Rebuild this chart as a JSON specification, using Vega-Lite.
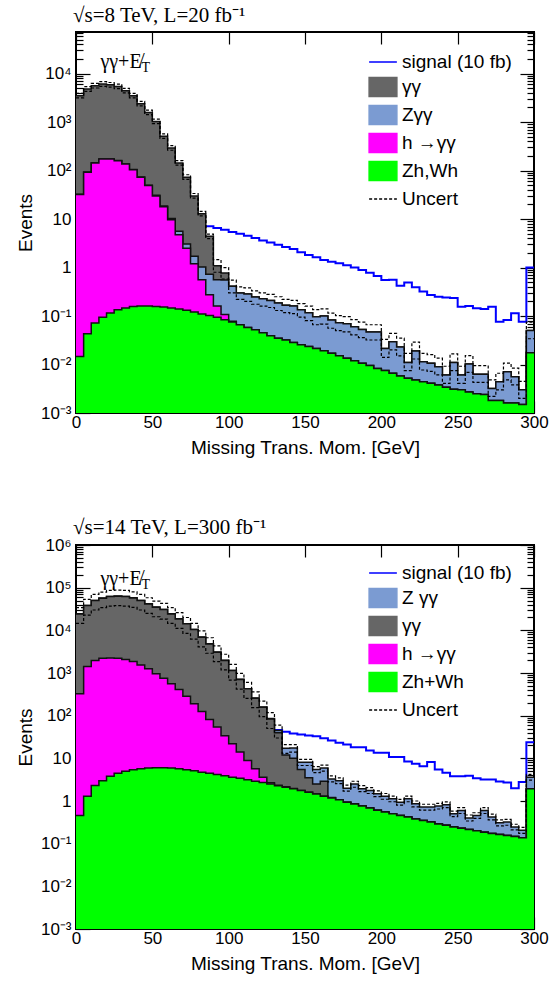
{
  "$schema": "https://vega.github.io/schema/vega-lite/v6.json",
  "background": "white",
  "padding": {"left": 15, "top": 3, "right": 5, "bottom": 0},
  "config": {
    "font": "Liberation Sans",
    "view": {"stroke": "#000", "strokeWidth": 2},
    "axis": {"domain": false, "grid": false, "labelFont": "Liberation Sans", "labelFontSize": 17, "labelColor": "#000", "titleFont": "Liberation Sans", "titleFontSize": 19, "titleFontWeight": "normal", "titleColor": "#000", "tickColor": "#000", "tickWidth": 1.2, "labelOverlap": false, "labelBound": false, "labelFlush": false},
    "title": {"font": "Liberation Serif", "fontSize": 21, "fontWeight": "normal", "color": "#000", "anchor": "start", "frame": "group"}
  },
  "datasets": {
    "d8": [
      {"x":0,"g":0.0147,"m":32,"c":32.5,"t":3490,"s":null,"u":3900,"d":3140},
      {"x":5,"g":0.043,"m":92,"c":93,"t":4790,"s":null,"u":5360,"d":4310},
      {"x":10,"g":0.072,"m":143,"c":144,"t":5600,"s":null,"u":6270,"d":5040},
      {"x":15,"g":0.094,"m":173,"c":174,"t":6070,"s":null,"u":6800,"d":5460},
      {"x":20,"g":0.115,"m":173,"c":174,"t":5850,"s":null,"u":6550,"d":5270},
      {"x":25,"g":0.135,"m":160,"c":161,"t":5430,"s":null,"u":6080,"d":4890},
      {"x":30,"g":0.146,"m":136,"c":137,"t":4430,"s":null,"u":4960,"d":3990},
      {"x":35,"g":0.158,"m":104,"c":105,"t":3490,"s":null,"u":3910,"d":3140},
      {"x":40,"g":0.16,"m":73,"c":74,"t":2390,"s":null,"u":2680,"d":2150},
      {"x":45,"g":0.16,"m":49,"c":50,"t":1580,"s":null,"u":1770,"d":1420},
      {"x":50,"g":0.158,"m":30,"c":31,"t":1030,"s":null,"u":1150,"d":927},
      {"x":55,"g":0.153,"m":18,"c":18.6,"t":510,"s":null,"u":571,"d":459},
      {"x":60,"g":0.146,"m":9.7,"c":10.2,"t":291,"s":null,"u":326,"d":262},
      {"x":65,"g":0.139,"m":4.75,"c":5.6,"t":143,"s":null,"u":160,"d":129},
      {"x":70,"g":0.131,"m":2.5,"c":3.05,"t":73,"s":null,"u":82,"d":66},
      {"x":75,"g":0.121,"m":1.2,"c":1.7,"t":30,"s":null,"u":33.6,"d":27},
      {"x":80,"g":0.11,"m":0.56,"c":1.02,"t":12.9,"s":null,"u":14.4,"d":11.6},
      {"x":85,"g":0.102,"m":0.275,"c":0.73,"t":4.4,"s":7.06,"u":4.9,"d":3.96},
      {"x":90,"g":0.094,"m":0.16,"c":0.56,"t":1.09,"s":6.5,"u":1.45,"d":0.8},
      {"x":95,"g":0.084,"m":0.107,"c":0.55,"t":0.77,"s":6.0,"u":1.0,"d":0.58},
      {"x":100,"g":0.075,"m":0.078,"c":0.41,"t":0.41,"s":5.4,"u":0.55,"d":0.3},
      {"x":105,"g":0.066,"m":0.066,"c":0.3,"t":0.3,"s":5.0,"u":0.4,"d":0.22},
      {"x":110,"g":0.058,"m":0.058,"c":0.285,"t":0.285,"s":4.5,"u":0.38,"d":0.2},
      {"x":115,"g":0.052,"m":0.052,"c":0.247,"t":0.247,"s":4.06,"u":0.33,"d":0.175},
      {"x":120,"g":0.045,"m":0.045,"c":0.228,"t":0.228,"s":3.63,"u":0.3,"d":0.16},
      {"x":125,"g":0.039,"m":0.039,"c":0.21,"t":0.21,"s":3.3,"u":0.28,"d":0.15},
      {"x":130,"g":0.035,"m":0.035,"c":0.185,"t":0.185,"s":2.96,"u":0.25,"d":0.13},
      {"x":135,"g":0.032,"m":0.032,"c":0.167,"t":0.167,"s":2.65,"u":0.22,"d":0.118},
      {"x":140,"g":0.0286,"m":0.0286,"c":0.16,"t":0.16,"s":2.4,"u":0.21,"d":0.112},
      {"x":145,"g":0.0256,"m":0.0256,"c":0.135,"t":0.135,"s":2.06,"u":0.18,"d":0.095},
      {"x":150,"g":0.0235,"m":0.0235,"c":0.117,"t":0.117,"s":1.81,"u":0.16,"d":0.08},
      {"x":155,"g":0.0215,"m":0.0215,"c":0.097,"t":0.097,"s":1.62,"u":0.135,"d":0.066},
      {"x":160,"g":0.0193,"m":0.0193,"c":0.1,"t":0.1,"s":1.43,"u":0.14,"d":0.068},
      {"x":165,"g":0.017,"m":0.017,"c":0.083,"t":0.083,"s":1.32,"u":0.115,"d":0.056},
      {"x":170,"g":0.0151,"m":0.0151,"c":0.073,"t":0.073,"s":1.22,"u":0.102,"d":0.05},
      {"x":175,"g":0.0134,"m":0.0134,"c":0.069,"t":0.069,"s":1.11,"u":0.097,"d":0.047},
      {"x":180,"g":0.012,"m":0.012,"c":0.06,"t":0.06,"s":1.0,"u":0.084,"d":0.041},
      {"x":185,"g":0.0106,"m":0.0106,"c":0.053,"t":0.053,"s":0.89,"u":0.075,"d":0.036},
      {"x":190,"g":0.0095,"m":0.0095,"c":0.047,"t":0.047,"s":0.78,"u":0.066,"d":0.032},
      {"x":195,"g":0.0083,"m":0.0083,"c":0.047,"t":0.047,"s":0.67,"u":0.066,"d":0.032},
      {"x":200,"g":0.0075,"m":0.0075,"c":0.0215,"t":0.0215,"s":0.55,"u":0.033,"d":0.014},
      {"x":205,"g":0.0066,"m":0.0066,"c":0.0296,"t":0.0296,"s":0.56,"u":0.044,"d":0.02},
      {"x":210,"g":0.0058,"m":0.0058,"c":0.023,"t":0.023,"s":0.42,"u":0.035,"d":0.015},
      {"x":215,"g":0.0052,"m":0.0052,"c":0.011,"t":0.011,"s":0.49,"u":0.017,"d":0.0075},
      {"x":220,"g":0.0048,"m":0.0048,"c":0.019,"t":0.019,"s":0.39,"u":0.029,"d":0.013},
      {"x":225,"g":0.0044,"m":0.0044,"c":0.0114,"t":0.0114,"s":0.32,"u":0.017,"d":0.0077},
      {"x":230,"g":0.0041,"m":0.0041,"c":0.0106,"t":0.0106,"s":0.27,"u":0.016,"d":0.0072},
      {"x":235,"g":0.0038,"m":0.0038,"c":0.009,"t":0.009,"s":0.25,"u":0.0135,"d":0.0061},
      {"x":240,"g":0.0034,"m":0.0034,"c":0.0061,"t":0.0061,"s":0.24,"u":0.0092,"d":0.0041},
      {"x":245,"g":0.0031,"m":0.0031,"c":0.011,"t":0.011,"s":0.235,"u":0.0165,"d":0.0075},
      {"x":250,"g":0.003,"m":0.003,"c":0.0061,"t":0.0061,"s":0.155,"u":0.0092,"d":0.0041},
      {"x":255,"g":0.0027,"m":0.0027,"c":0.0102,"t":0.0102,"s":0.16,"u":0.0153,"d":0.0069},
      {"x":260,"g":0.0025,"m":0.0025,"c":0.0063,"t":0.0063,"s":0.144,"u":0.0095,"d":0.0043},
      {"x":265,"g":0.0024,"m":0.0024,"c":0.0063,"t":0.0063,"s":0.14,"u":0.0095,"d":0.0043},
      {"x":270,"g":0.0018,"m":0.0018,"c":0.0032,"t":0.0032,"s":0.155,"u":0.0048,"d":0.0022},
      {"x":275,"g":0.0018,"m":0.0018,"c":0.0044,"t":0.0044,"s":0.076,"u":0.0066,"d":0.003},
      {"x":280,"g":0.0016,"m":0.0016,"c":0.0071,"t":0.0071,"s":0.083,"u":0.0107,"d":0.0048},
      {"x":285,"g":0.0016,"m":0.0016,"c":0.0056,"t":0.0056,"s":0.114,"u":0.0084,"d":0.0038},
      {"x":290,"g":0.0015,"m":0.0015,"c":0.003,"t":0.003,"s":0.076,"u":0.0045,"d":0.002},
      {"x":295,"g":0.0175,"m":0.0175,"c":0.05,"t":0.05,"s":1.0,"u":0.075,"d":0.034},
      {"x":300,"g":0.0175,"m":0.0175,"c":0.05,"t":0.05,"s":1.0,"u":0.075,"d":0.034}
    ],
    "d14": [
      {"x":0,"g":0.46,"m":325,"c":24300,"t":24500,"s":null,"u":34000,"d":14600},
      {"x":5,"g":1.3,"m":1420,"c":38000,"t":38300,"s":null,"u":53000,"d":22800},
      {"x":10,"g":2.3,"m":1960,"c":49800,"t":50200,"s":null,"u":70000,"d":30000},
      {"x":15,"g":3.0,"m":2220,"c":56500,"t":57000,"s":null,"u":79000,"d":34000},
      {"x":20,"g":3.8,"m":2260,"c":61700,"t":62200,"s":null,"u":86000,"d":37000},
      {"x":25,"g":4.5,"m":2220,"c":63000,"t":63500,"s":null,"u":88000,"d":38000},
      {"x":30,"g":5.0,"m":2070,"c":61700,"t":62200,"s":null,"u":86000,"d":37000},
      {"x":35,"g":5.4,"m":1860,"c":57500,"t":58000,"s":null,"u":80000,"d":34500},
      {"x":40,"g":5.7,"m":1550,"c":49800,"t":50200,"s":null,"u":70000,"d":30000},
      {"x":45,"g":5.9,"m":1250,"c":41600,"t":42000,"s":null,"u":58000,"d":25000},
      {"x":50,"g":6.0,"m":955,"c":34700,"t":35000,"s":null,"u":48500,"d":20800},
      {"x":55,"g":6.0,"m":755,"c":30600,"t":30900,"s":null,"u":43000,"d":18400},
      {"x":60,"g":5.9,"m":557,"c":24300,"t":24500,"s":null,"u":34000,"d":14600},
      {"x":65,"g":5.7,"m":410,"c":18500,"t":18700,"s":null,"u":26000,"d":11100},
      {"x":70,"g":5.4,"m":286,"c":14200,"t":14300,"s":null,"u":20000,"d":8500},
      {"x":75,"g":5.1,"m":189,"c":10400,"t":10500,"s":null,"u":14600,"d":6200},
      {"x":80,"g":4.75,"m":125,"c":6900,"t":6970,"s":null,"u":9700,"d":4100},
      {"x":85,"g":4.5,"m":81,"c":4800,"t":4850,"s":null,"u":6700,"d":2900},
      {"x":90,"g":4.2,"m":54,"c":3070,"t":3100,"s":null,"u":4300,"d":1840},
      {"x":95,"g":3.9,"m":34,"c":1960,"t":1980,"s":null,"u":2750,"d":1180},
      {"x":100,"g":3.6,"m":22,"c":1140,"t":1150,"s":null,"u":1600,"d":680},
      {"x":105,"g":3.4,"m":14,"c":700,"t":710,"s":null,"u":980,"d":420},
      {"x":110,"g":3.14,"m":8.9,"c":425,"t":430,"s":null,"u":600,"d":255},
      {"x":115,"g":2.9,"m":5.7,"c":257,"t":260,"s":null,"u":360,"d":154},
      {"x":120,"g":2.72,"m":3.6,"c":158,"t":160,"s":null,"u":220,"d":95},
      {"x":125,"g":2.5,"m":2.67,"c":84,"t":86,"s":null,"u":118,"d":50},
      {"x":130,"g":2.27,"m":2.35,"c":40,"t":45,"s":46,"u":60,"d":30},
      {"x":135,"g":2.1,"m":2.15,"c":12,"t":17.3,"s":42,"u":21,"d":13},
      {"x":140,"g":1.94,"m":1.97,"c":10,"t":17.5,"s":38,"u":21,"d":14},
      {"x":145,"g":1.76,"m":1.76,"c":5.5,"t":8.1,"s":36,"u":9.5,"d":6.8},
      {"x":150,"g":1.6,"m":1.6,"c":3.5,"t":8.1,"s":34.3,"u":9.5,"d":6.8},
      {"x":155,"g":1.45,"m":1.45,"c":2.5,"t":5.5,"s":33,"u":6.4,"d":4.6},
      {"x":160,"g":1.3,"m":1.3,"c":2.9,"t":5.9,"s":29.7,"u":6.9,"d":5.0},
      {"x":165,"g":1.17,"m":1.17,"c":1.2,"t":3.3,"s":26.2,"u":3.9,"d":2.8},
      {"x":170,"g":1.07,"m":1.07,"c":1.07,"t":3.0,"s":23.1,"u":3.5,"d":2.55},
      {"x":175,"g":0.94,"m":0.94,"c":0.94,"t":2.0,"s":21,"u":2.35,"d":1.7},
      {"x":180,"g":0.85,"m":0.85,"c":0.85,"t":2.5,"s":18.3,"u":2.9,"d":2.1},
      {"x":185,"g":0.76,"m":0.76,"c":0.76,"t":1.95,"s":18.3,"u":2.3,"d":1.65},
      {"x":190,"g":0.69,"m":0.69,"c":0.69,"t":1.77,"s":15.3,"u":2.05,"d":1.5},
      {"x":195,"g":0.61,"m":0.61,"c":0.61,"t":1.48,"s":13.5,"u":1.72,"d":1.26},
      {"x":200,"g":0.55,"m":0.55,"c":0.55,"t":1.3,"s":13.5,"u":1.5,"d":1.1},
      {"x":205,"g":0.5,"m":0.5,"c":0.5,"t":1.13,"s":10.7,"u":1.3,"d":0.96},
      {"x":210,"g":0.46,"m":0.46,"c":0.46,"t":0.94,"s":10.7,"u":1.09,"d":0.8},
      {"x":215,"g":0.42,"m":0.42,"c":0.42,"t":1.13,"s":8.45,"u":1.3,"d":0.96},
      {"x":220,"g":0.38,"m":0.38,"c":0.38,"t":0.86,"s":7.45,"u":1.0,"d":0.73},
      {"x":225,"g":0.35,"m":0.35,"c":0.35,"t":0.72,"s":6.56,"u":0.84,"d":0.61},
      {"x":230,"g":0.32,"m":0.32,"c":0.32,"t":0.72,"s":8.2,"u":0.84,"d":0.61},
      {"x":235,"g":0.29,"m":0.29,"c":0.29,"t":0.76,"s":5.5,"u":0.88,"d":0.65},
      {"x":240,"g":0.27,"m":0.27,"c":0.27,"t":0.82,"s":4.6,"u":0.95,"d":0.7},
      {"x":245,"g":0.245,"m":0.245,"c":0.245,"t":0.5,"s":3.8,"u":0.58,"d":0.43},
      {"x":250,"g":0.23,"m":0.23,"c":0.23,"t":0.6,"s":3.8,"u":0.7,"d":0.51},
      {"x":255,"g":0.215,"m":0.215,"c":0.215,"t":0.4,"s":3.9,"u":0.47,"d":0.34},
      {"x":260,"g":0.2,"m":0.2,"c":0.2,"t":0.46,"s":3.4,"u":0.53,"d":0.39},
      {"x":265,"g":0.185,"m":0.185,"c":0.185,"t":0.6,"s":3.2,"u":0.7,"d":0.51},
      {"x":270,"g":0.174,"m":0.174,"c":0.174,"t":0.42,"s":3.2,"u":0.49,"d":0.36},
      {"x":275,"g":0.165,"m":0.165,"c":0.165,"t":0.31,"s":2.87,"u":0.36,"d":0.26},
      {"x":280,"g":0.156,"m":0.156,"c":0.156,"t":0.32,"s":2.7,"u":0.37,"d":0.27},
      {"x":285,"g":0.148,"m":0.148,"c":0.148,"t":0.245,"s":2.0,"u":0.285,"d":0.21},
      {"x":290,"g":0.138,"m":0.138,"c":0.138,"t":0.205,"s":2.8,"u":0.24,"d":0.175},
      {"x":295,"g":1.94,"m":1.94,"c":1.94,"t":3.6,"s":23.9,"u":4.2,"d":3.1},
      {"x":300,"g":1.94,"m":1.94,"c":1.94,"t":3.6,"s":23.9,"u":4.2,"d":3.1}
    ]
  },
  "spacing": 58,
  "resolve": {"scale": {"color": "independent"}, "legend": {"color": "independent"}},
  "vconcat": [
    {
      "width": 458, "height": 381,
      "title": {"text": "√s=8 TeV, L=20 fb⁻¹", "offset": -2, "dx": -3},
      "data": {"name": "d8"},
      "resolve": {"axis": {"x": "independent", "y": "independent"}},
      "layer": [
        {
          "mark": {"type": "line", "interpolate": "step-after", "strokeWidth": 2, "clip": true},
          "encoding": {
            "x": {"field": "x", "type": "quantitative", "scale": {"domain": [0, 300], "nice": false, "zero": false},
              "axis": {"orient": "bottom", "values": [0, 50, 100, 150, 200, 250, 300], "tickSize": -12, "labelPadding": 13, "title": "Missing Trans. Mom. [GeV]", "titlePadding": 8}},
            "y": {"field": "s", "type": "quantitative", "scale": {"type": "log", "domain": [0.001, 72000], "nice": false},
              "axis": {"orient": "left", "title": "Events", "titlePadding": 5,
                "values": [0.001,0.002,0.003,0.004,0.005,0.006,0.007,0.008,0.009,0.01,0.02,0.03,0.04,0.05,0.06,0.07,0.08,0.09,0.1,0.2,0.3,0.4,0.5,0.6,0.7,0.8,0.9,1,2,3,4,5,6,7,8,9,10,20,30,40,50,60,70,80,90,100,200,300,400,500,600,700,800,900,1000,2000,3000,4000,5000,6000,7000,8000,9000,10000,20000,30000,40000,50000,60000,70000],
                "labelExpr": "abs(log(datum.value)/LN10 - round(log(datum.value)/LN10)) > 0.001 ? '' : ['10⁻³','10⁻²','10⁻¹','1','10','10²','10³','10⁴','10⁵','10⁶'][round(log(datum.value)/LN10) + 3]",
                "tickSize": {"condition": {"test": "abs(log(datum.value)/LN10 - round(log(datum.value)/LN10)) < 0.001", "value": -14}, "value": -7},
                "labelPadding": 19}},
            "color": {"datum": "signal (10 fb)",
              "scale": {"domain": ["signal (10 fb)", "γγ", "Zγγ", "h →γγ", "Zh,Wh", "Uncert"], "range": ["#0000ff", "#666666", "#7b9bd2", "#ff00ff", "#00ff00", "#000000"]},
              "legend": {"orient": "none", "legendX": 292, "legendY": 15, "title": null, "symbolSize": 770, "symbolType": "M-1,-0.68H1V0.68H-1Z", "labelFont": "Liberation Sans", "labelFontSize": 19, "labelColor": "#000", "labelOffset": 4, "rowPadding": 0, "labelLimit": 300,
                "encode": {"symbols": {"update": {
                  "shape": {"signal": "datum.value === 'signal (10 fb)' || datum.value === 'Uncert' ? 'M-1,0H1' : 'M-1,-0.68H1V0.68H-1Z'"},
                  "fill": {"signal": "datum.value === 'signal (10 fb)' || datum.value === 'Uncert' ? 'transparent' : datum.value === 'γγ' ? '#666666' : datum.value === 'Zγγ' ? '#7b9bd2' : datum.value === 'h →γγ' ? '#ff00ff' : '#00ff00'"},
                  "stroke": {"signal": "datum.value === 'signal (10 fb)' ? '#0000ff' : '#222222'"},
                  "strokeWidth": {"value": 1.5},
                  "strokeDash": {"signal": "datum.value === 'Uncert' ? [3, 2] : [1, 0]"},
                  "opacity": {"value": 1}, "fillOpacity": {"value": 1}}}}}}
          }
        },
        {
          "mark": {"type": "area", "interpolate": "step-after", "clip": true},
          "encoding": {
            "x": {"field": "x", "type": "quantitative", "axis": {"orient": "top", "values": [0, 50, 100, 150, 200, 250, 300], "tickSize": -12, "labels": false, "title": null}},
            "y": {"field": "t", "type": "quantitative", "axis": {"orient": "right", "title": null, "labels": false,
                "values": [0.001,0.002,0.003,0.004,0.005,0.006,0.007,0.008,0.009,0.01,0.02,0.03,0.04,0.05,0.06,0.07,0.08,0.09,0.1,0.2,0.3,0.4,0.5,0.6,0.7,0.8,0.9,1,2,3,4,5,6,7,8,9,10,20,30,40,50,60,70,80,90,100,200,300,400,500,600,700,800,900,1000,2000,3000,4000,5000,6000,7000,8000,9000,10000,20000,30000,40000,50000,60000,70000],
                "tickSize": {"condition": {"test": "abs(log(datum.value)/LN10 - round(log(datum.value)/LN10)) < 0.001", "value": -14}, "value": -7}}},
            "y2": {"datum": 0.001},
            "color": {"datum": "γγ"}
          }
        },
        {"mark": {"type": "line", "interpolate": "step-after", "color": "#111", "strokeWidth": 1.5, "clip": true},
         "encoding": {"x": {"field": "x", "type": "quantitative", "axis": null}, "y": {"field": "t", "type": "quantitative", "axis": null}}},
        {"mark": {"type": "area", "interpolate": "step-after", "clip": true},
         "encoding": {"x": {"field": "x", "type": "quantitative", "axis": null}, "y": {"field": "c", "type": "quantitative", "axis": null}, "y2": {"datum": 0.001}, "color": {"datum": "Zγγ"}}},
        {"mark": {"type": "line", "interpolate": "step-after", "color": "#111", "strokeWidth": 1.5, "clip": true},
         "encoding": {"x": {"field": "x", "type": "quantitative", "axis": null}, "y": {"field": "c", "type": "quantitative", "axis": null}}},
        {"mark": {"type": "area", "interpolate": "step-after", "clip": true},
         "encoding": {"x": {"field": "x", "type": "quantitative", "axis": null}, "y": {"field": "m", "type": "quantitative", "axis": null}, "y2": {"datum": 0.001}, "color": {"datum": "h →γγ"}}},
        {"mark": {"type": "line", "interpolate": "step-after", "color": "#111", "strokeWidth": 1.5, "clip": true},
         "encoding": {"x": {"field": "x", "type": "quantitative", "axis": null}, "y": {"field": "m", "type": "quantitative", "axis": null}}},
        {"mark": {"type": "area", "interpolate": "step-after", "clip": true},
         "encoding": {"x": {"field": "x", "type": "quantitative", "axis": null}, "y": {"field": "g", "type": "quantitative", "axis": null}, "y2": {"datum": 0.001}, "color": {"datum": "Zh,Wh"}}},
        {"mark": {"type": "line", "interpolate": "step-after", "color": "#111", "strokeWidth": 1.5, "clip": true},
         "encoding": {"x": {"field": "x", "type": "quantitative", "axis": null}, "y": {"field": "g", "type": "quantitative", "axis": null}}},
        {"mark": {"type": "line", "interpolate": "step-after", "strokeWidth": 1.2, "strokeDash": [3, 2], "clip": true},
         "encoding": {"x": {"field": "x", "type": "quantitative", "axis": null}, "y": {"field": "u", "type": "quantitative", "axis": null}, "color": {"datum": "Uncert"}}},
        {"mark": {"type": "line", "interpolate": "step-after", "strokeWidth": 1.2, "strokeDash": [3, 2], "clip": true},
         "encoding": {"x": {"field": "x", "type": "quantitative", "axis": null}, "y": {"field": "d", "type": "quantitative", "axis": null}, "color": {"datum": "Uncert"}}},
        {"data": {"values": [{}]},
         "mark": {"type": "text", "font": "Liberation Serif", "fontSize": 20, "align": "left", "baseline": "middle", "color": "#000"},
         "encoding": {"x": {"datum": 16, "type": "quantitative", "axis": null}, "y": {"datum": 17000, "type": "quantitative", "axis": null}, "text": {"value": "γγ+E̸"}}},
        {"data": {"values": [{}]},
         "mark": {"type": "text", "font": "Liberation Serif", "fontSize": 14, "align": "left", "baseline": "middle", "color": "#000", "dx": 41, "dy": 6},
         "encoding": {"x": {"datum": 16, "type": "quantitative", "axis": null}, "y": {"datum": 17000, "type": "quantitative", "axis": null}, "text": {"value": "T"}}}
      ]
    },
    {
      "width": 458, "height": 384,
      "title": {"text": "√s=14 TeV, L=300 fb⁻¹", "offset": -2, "dx": -3},
      "data": {"name": "d14"},
      "resolve": {"axis": {"x": "independent", "y": "independent"}},
      "layer": [
        {
          "mark": {"type": "line", "interpolate": "step-after", "strokeWidth": 2, "clip": true},
          "encoding": {
            "x": {"field": "x", "type": "quantitative", "scale": {"domain": [0, 300], "nice": false, "zero": false},
              "axis": {"orient": "bottom", "values": [0, 50, 100, 150, 200, 250, 300], "tickSize": -12, "labelPadding": 13, "title": "Missing Trans. Mom. [GeV]", "titlePadding": 8}},
            "y": {"field": "s", "type": "quantitative", "scale": {"type": "log", "domain": [0.001, 1000000], "nice": false},
              "axis": {"orient": "left", "title": "Events", "titlePadding": 5,
                "values": [0.001,0.002,0.003,0.004,0.005,0.006,0.007,0.008,0.009,0.01,0.02,0.03,0.04,0.05,0.06,0.07,0.08,0.09,0.1,0.2,0.3,0.4,0.5,0.6,0.7,0.8,0.9,1,2,3,4,5,6,7,8,9,10,20,30,40,50,60,70,80,90,100,200,300,400,500,600,700,800,900,1000,2000,3000,4000,5000,6000,7000,8000,9000,10000,20000,30000,40000,50000,60000,70000,80000,90000,100000,200000,300000,400000,500000,600000,700000,800000,900000,1000000],
                "labelExpr": "abs(log(datum.value)/LN10 - round(log(datum.value)/LN10)) > 0.001 ? '' : ['10⁻³','10⁻²','10⁻¹','1','10','10²','10³','10⁴','10⁵','10⁶'][round(log(datum.value)/LN10) + 3]",
                "tickSize": {"condition": {"test": "abs(log(datum.value)/LN10 - round(log(datum.value)/LN10)) < 0.001", "value": -14}, "value": -7},
                "labelPadding": 19}},
            "color": {"datum": "signal (10 fb)",
              "scale": {"domain": ["signal (10 fb)", "Z γγ", "γγ", "h →γγ", "Zh+Wh", "Uncert"], "range": ["#0000ff", "#7b9bd2", "#666666", "#ff00ff", "#00ff00", "#000000"]},
              "legend": {"orient": "none", "legendX": 292, "legendY": 13, "title": null, "symbolSize": 770, "symbolType": "M-1,-0.68H1V0.68H-1Z", "labelFont": "Liberation Sans", "labelFontSize": 19, "labelColor": "#000", "labelOffset": 4, "rowPadding": 0, "labelLimit": 300,
                "encode": {"symbols": {"update": {
                  "shape": {"signal": "datum.value === 'signal (10 fb)' || datum.value === 'Uncert' ? 'M-1,0H1' : 'M-1,-0.68H1V0.68H-1Z'"},
                  "fill": {"signal": "datum.value === 'signal (10 fb)' || datum.value === 'Uncert' ? 'transparent' : datum.value === 'γγ' ? '#666666' : datum.value === 'Z γγ' ? '#7b9bd2' : datum.value === 'h →γγ' ? '#ff00ff' : '#00ff00'"},
                  "stroke": {"signal": "datum.value === 'signal (10 fb)' ? '#0000ff' : '#222222'"},
                  "strokeWidth": {"value": 1.5},
                  "strokeDash": {"signal": "datum.value === 'Uncert' ? [3, 2] : [1, 0]"},
                  "opacity": {"value": 1}, "fillOpacity": {"value": 1}}}}}}
          }
        },
        {
          "mark": {"type": "area", "interpolate": "step-after", "clip": true},
          "encoding": {
            "x": {"field": "x", "type": "quantitative", "axis": {"orient": "top", "values": [0, 50, 100, 150, 200, 250, 300], "tickSize": -12, "labels": false, "title": null}},
            "y": {"field": "t", "type": "quantitative", "axis": {"orient": "right", "title": null, "labels": false,
                "values": [0.001,0.002,0.003,0.004,0.005,0.006,0.007,0.008,0.009,0.01,0.02,0.03,0.04,0.05,0.06,0.07,0.08,0.09,0.1,0.2,0.3,0.4,0.5,0.6,0.7,0.8,0.9,1,2,3,4,5,6,7,8,9,10,20,30,40,50,60,70,80,90,100,200,300,400,500,600,700,800,900,1000,2000,3000,4000,5000,6000,7000,8000,9000,10000,20000,30000,40000,50000,60000,70000,80000,90000,100000,200000,300000,400000,500000,600000,700000,800000,900000,1000000],
                "tickSize": {"condition": {"test": "abs(log(datum.value)/LN10 - round(log(datum.value)/LN10)) < 0.001", "value": -14}, "value": -7}}},
            "y2": {"datum": 0.001},
            "color": {"datum": "Z γγ"}
          }
        },
        {"mark": {"type": "line", "interpolate": "step-after", "color": "#111", "strokeWidth": 1.5, "clip": true},
         "encoding": {"x": {"field": "x", "type": "quantitative", "axis": null}, "y": {"field": "t", "type": "quantitative", "axis": null}}},
        {"mark": {"type": "area", "interpolate": "step-after", "clip": true},
         "encoding": {"x": {"field": "x", "type": "quantitative", "axis": null}, "y": {"field": "c", "type": "quantitative", "axis": null}, "y2": {"datum": 0.001}, "color": {"datum": "γγ"}}},
        {"mark": {"type": "line", "interpolate": "step-after", "color": "#111", "strokeWidth": 1.5, "clip": true},
         "encoding": {"x": {"field": "x", "type": "quantitative", "axis": null}, "y": {"field": "c", "type": "quantitative", "axis": null}}},
        {"mark": {"type": "area", "interpolate": "step-after", "clip": true},
         "encoding": {"x": {"field": "x", "type": "quantitative", "axis": null}, "y": {"field": "m", "type": "quantitative", "axis": null}, "y2": {"datum": 0.001}, "color": {"datum": "h →γγ"}}},
        {"mark": {"type": "line", "interpolate": "step-after", "color": "#111", "strokeWidth": 1.5, "clip": true},
         "encoding": {"x": {"field": "x", "type": "quantitative", "axis": null}, "y": {"field": "m", "type": "quantitative", "axis": null}}},
        {"mark": {"type": "area", "interpolate": "step-after", "clip": true},
         "encoding": {"x": {"field": "x", "type": "quantitative", "axis": null}, "y": {"field": "g", "type": "quantitative", "axis": null}, "y2": {"datum": 0.001}, "color": {"datum": "Zh+Wh"}}},
        {"mark": {"type": "line", "interpolate": "step-after", "color": "#111", "strokeWidth": 1.5, "clip": true},
         "encoding": {"x": {"field": "x", "type": "quantitative", "axis": null}, "y": {"field": "g", "type": "quantitative", "axis": null}}},
        {"mark": {"type": "line", "interpolate": "step-after", "strokeWidth": 1.2, "strokeDash": [3, 2], "clip": true},
         "encoding": {"x": {"field": "x", "type": "quantitative", "axis": null}, "y": {"field": "u", "type": "quantitative", "axis": null}, "color": {"datum": "Uncert"}}},
        {"mark": {"type": "line", "interpolate": "step-after", "strokeWidth": 1.2, "strokeDash": [3, 2], "clip": true},
         "encoding": {"x": {"field": "x", "type": "quantitative", "axis": null}, "y": {"field": "d", "type": "quantitative", "axis": null}, "color": {"datum": "Uncert"}}},
        {"data": {"values": [{}]},
         "mark": {"type": "text", "font": "Liberation Serif", "fontSize": 20, "align": "left", "baseline": "middle", "color": "#000"},
         "encoding": {"x": {"datum": 16, "type": "quantitative", "axis": null}, "y": {"datum": 160000, "type": "quantitative", "axis": null}, "text": {"value": "γγ+E̸"}}},
        {"data": {"values": [{}]},
         "mark": {"type": "text", "font": "Liberation Serif", "fontSize": 14, "align": "left", "baseline": "middle", "color": "#000", "dx": 41, "dy": 6},
         "encoding": {"x": {"datum": 16, "type": "quantitative", "axis": null}, "y": {"datum": 160000, "type": "quantitative", "axis": null}, "text": {"value": "T"}}}
      ]
    }
  ]
}
